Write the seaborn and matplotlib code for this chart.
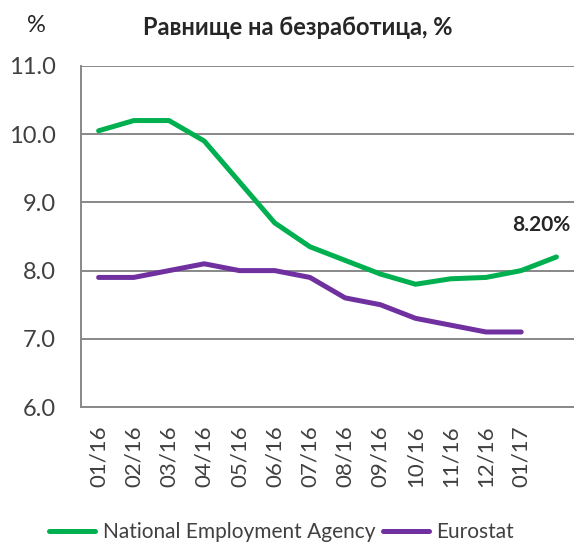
import matplotlib
matplotlib.use("Agg")
import matplotlib.pyplot as plt
import pandas as pd
import seaborn as sns

months = ["01/16", "02/16", "03/16", "04/16", "05/16", "06/16", "07/16",
          "08/16", "09/16", "10/16", "11/16", "12/16", "01/17", ""]
nea = [10.05, 10.2, 10.2, 9.9, 9.3, 8.7, 8.35, 8.15, 7.95, 7.8, 7.88, 7.9, 8.0, 8.2]
eurostat = [7.9, 7.9, 8.0, 8.1, 8.0, 8.0, 7.9, 7.6, 7.5, 7.3, 7.2, 7.1, 7.1]
series_names = ["National Employment Agency", "Eurostat"]
colors = ["#00B050", "#7030A0"]

rows = []
for i, v in enumerate(nea):
    rows.append({"idx": i, "value": v, "series": series_names[0]})
for i, v in enumerate(eurostat):
    rows.append({"idx": i, "value": v, "series": series_names[1]})
df = pd.DataFrame(rows)

sns.set_style("white")
plt.rcParams["font.family"] = ["Lato", "DejaVu Sans"]
text_col = "#404040"
axis_col = "#888888"

fig = plt.figure(figsize=(5.74, 5.49), dpi=100)
ax = fig.add_axes([81 / 574, 142 / 549, 493 / 574, 341 / 549])

sns.lineplot(data=df, x="idx", y="value", hue="series", palette=colors,
             linewidth=3.6, ax=ax, legend=False)
for ln in ax.get_lines():
    ln.set_solid_capstyle("round")
    ln.set_solid_joinstyle("round")

ax.set_xlim(-0.5, len(months) - 0.5)
ax.set_ylim(6.0, 11.0)
ax.set_yticks([6, 7, 8, 9, 10, 11])
ax.set_yticklabels(["%.1f" % t for t in [6, 7, 8, 9, 10, 11]])
ax.yaxis.grid(True, color=axis_col, linewidth=1.4)
ax.set_axisbelow(True)

ax.set_xticks([i - 0.5 for i in range(len(months) + 1)])
ax.set_xticklabels([])
ax.set_xticks(range(len(months)), minor=True)
ax.set_xticklabels(months, minor=True, rotation=90)
ax.tick_params(axis="x", which="major", direction="out", length=6,
               width=1.4, color=axis_col)
ax.tick_params(axis="x", which="minor", length=0, pad=13,
               labelsize=16, labelcolor=text_col)
ax.tick_params(axis="y", direction="out", length=6, width=1.4,
               color=axis_col, labelsize=17, labelcolor=text_col, pad=12)
ax.set_xlabel("")
ax.set_ylabel("")

for s in ["top", "right"]:
    ax.spines[s].set_visible(False)
for s in ["left", "bottom"]:
    ax.spines[s].set_color(axis_col)
    ax.spines[s].set_linewidth(1.4)

ax.annotate("8.20%", xy=(len(nea) - 1, nea[-1]), xytext=(10, 23),
            textcoords="offset points", ha="right", va="center",
            fontsize=15, fontweight="bold", color="#262626")

fig.text(0.518, 0.949, "Равнище на безработица, %", ha="center",
         va="center", fontsize=17, fontweight="bold", color="#262626")
fig.text(36 / 574, 1 - 26 / 549, "%", ha="center", va="center",
         fontsize=17, color="#262626")

handles = [plt.Line2D([], [], color=c, linewidth=3.6, solid_capstyle="round")
           for c in colors]
fig.legend(handles, series_names, loc="center", bbox_to_anchor=(0.491, 0.031),
           ncol=2, frameon=False, fontsize=15, handlelength=2.2,
           handletextpad=0.35, columnspacing=0.4, labelcolor=text_col)

fig.savefig("out.png", dpi=100)
